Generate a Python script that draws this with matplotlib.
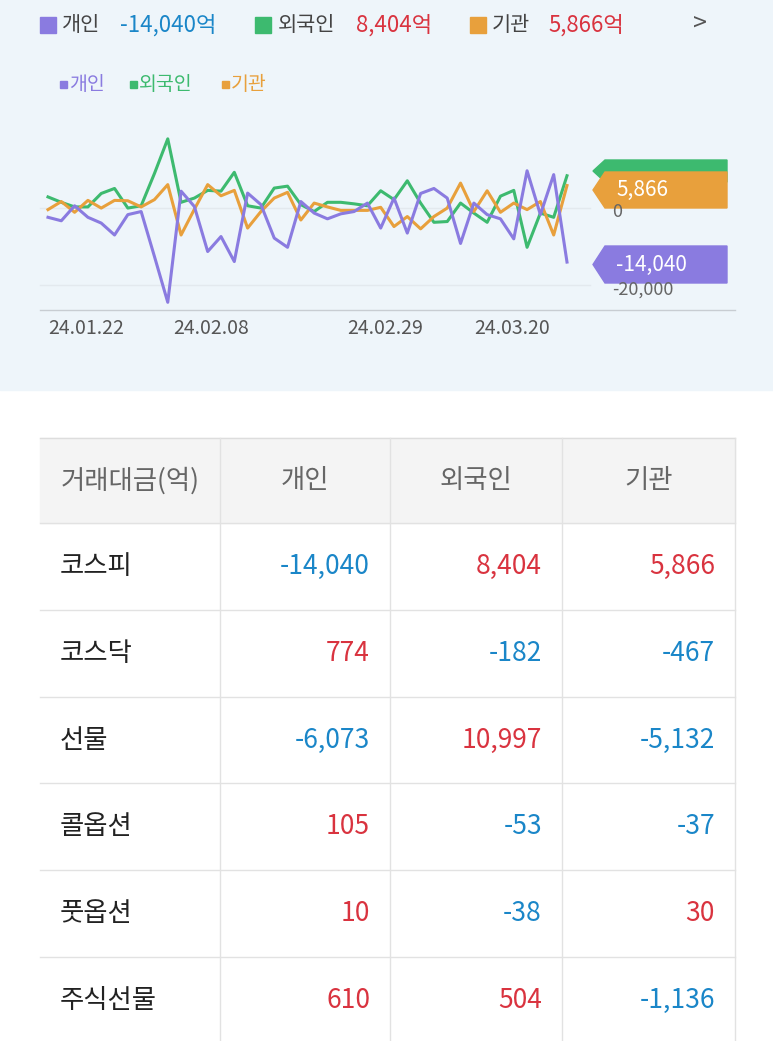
import matplotlib.pyplot as plt
from matplotlib.patches import Rectangle, Polygon
import numpy as np

plt.rcParams['font.family'] = ['Noto Sans CJK KR', 'Noto Sans CJK JP', 'Noto Sans CJK SC', 'DejaVu Sans']

# daily net buying (억)
individual = [-2400, -3300, 600, -2400, -3900, -7000, -1700, -900, -12600, -24500,
              4400, 400, -11300, -7400, -13900, 3900, 900, -7800, -10200, 1700,
              -1300, -2800, -1500, -900, 1300, -5200, 2600, -6500, 3800, 5100,
              2600, -9200, 1300, -1700, -2800, -8000, 9700, -1700, 8700, -14040]
foreign = [2900, 1500, 300, 300, 3800, 5100, 0, 600, 9000, 18000,
           1500, 2600, 4600, 4400, 9300, 600, 0, 5200, 5700, 900,
           -900, 1500, 1500, 1100, 600, 4500, 2200, 7100, 1300, -3700,
           -3500, 1300, -1300, -3700, 3100, 4600, -10200, -1300, -2400, 8404]
institution = [-400, 1700, -1100, 2000, 0, 2000, 1900, 300, 2200, 6100,
               -7000, -300, 6100, 3200, 4600, -5200, -900, 2600, 4100, -3100,
               1300, 300, -600, -600, -600, 200, -4800, -2200, -5400, -2200,
               0, 6500, -900, 4500, -1100, 1300, -400, 1700, -7000, 5866]
date_ticks = ['24.01.22', '24.02.08', '24.02.29', '24.03.20']
date_pos = [0, 9.4, 22.5, 32]

table_header = ['거래대금(억)', '개인', '외국인', '기관']
table_rows = ['코스피', '코스닥', '선물', '콜옵션', '풋옵션', '주식선물']
table_vals = [[-14040, 8404, 5866], [774, -182, -467], [-6073, 10997, -5132],
              [105, -53, -37], [10, -38, 30], [610, 504, -1136]]

PURPLE, GREEN, ORANGE = '#8a7be0', '#3dba6f', '#e8a03c'
BLUE, RED = '#1a86c8', '#d9333f'

fig = plt.figure(figsize=(7.73, 10.41), dpi=100)
bg = fig.add_axes([0, 0, 1, 1])
bg.set_xlim(0, 773)
bg.set_ylim(1041, 0)
bg.axis('off')
bg.add_patch(Rectangle((0, 0), 773, 390, color='#eef5fa', zorder=0))

# top legend
def square(x, y, c):
    bg.add_patch(Rectangle((x, y - 8), 16, 16, color=c))
bits = [(40, PURPLE, '개인', 62, '-14,040억', 120, BLUE),
        (255, GREEN, '외국인', 278, '8,404억', 356, RED),
        (470, ORANGE, '기관', 492, '5,866억', 548, RED)]
for sx, c, name, nx, val, vx, vc in bits:
    square(sx, 25, c)
    bg.text(nx, 25, name, fontsize=15, color='#444444', va='center')
    bg.text(vx, 25, val, fontsize=16, color=vc, va='center')
bg.text(700, 25, '>', fontsize=18, color='#555555', va='center', ha='center')

# mini legend
for x, c, name in [(60, PURPLE, '개인'), (130, GREEN, '외국인'), (222, ORANGE, '기관')]:
    bg.add_patch(Rectangle((x, 81), 7, 7, color=c))
    bg.text(x + 9, 85, name, fontsize=14, color=c, va='center')

# grid
for y in [208, 285]:
    bg.plot([40, 590], [y, y], color='#e3e9ee', lw=1)
bg.plot([40, 735], [310, 310], color='#c8cdd2', lw=1)
bg.text(612, 212, '0', fontsize=13, color='#666666', va='center')
bg.text(612, 290, '-20,000', fontsize=13, color='#666666', va='center')

# chart
ax = fig.add_axes([48 / 773, 1 - 310 / 1041, (567 - 48) / 773, 190 / 1041])
ax.set_xlim(0, len(individual) - 1)
ax.set_ylim(-26500, 22900)
ax.axis('off')
xs = np.arange(len(individual))
ax.plot(xs, foreign, color=GREEN, lw=2.2, clip_on=False)
ax.plot(xs, institution, color=ORANGE, lw=2.2, clip_on=False)
ax.plot(xs, individual, color=PURPLE, lw=2.2, clip_on=False)
for d, p in zip(date_ticks, date_pos):
    bg.text(48 + p * (567 - 48) / 39, 328, d, fontsize=14, color='#555555', va='center')

# value tags
def tag(y0, y1, c, label):
    ym = (y0 + y1) / 2
    bg.add_patch(Polygon([(593, ym), (605, y0), (727, y0), (727, y1), (605, y1)], color=c))
    if label:
        bg.text(616, ym, label, fontsize=15, color='white', va='center')
tag(160, 182, GREEN, '')
tag(172, 208, ORANGE, '5,866')
tag(246, 283, PURPLE, '-14,040')

# table
cols = [40, 220, 390, 562, 735]
bg.add_patch(Rectangle((40, 438), 695, 85, color='#f4f4f4'))
bg.plot([40, 735], [438, 438], color='#dddddd', lw=1)
row_y = [438, 523, 610, 697, 783, 870, 957, 1044]
for y in row_y[1:-1]:
    bg.plot([40, 735], [y, y], color='#e2e2e2', lw=1)
for x in cols[1:]:
    bg.plot([x, x], [438, 1041], color='#e2e2e2', lw=1)
for i, h in enumerate(table_header):
    bg.text((cols[i] + cols[i + 1]) / 2, 481, h, fontsize=19, color='#666666',
            ha='center', va='center')
for r, (name, vals) in enumerate(zip(table_rows, table_vals)):
    yc = (row_y[r + 1] + row_y[r + 2]) / 2
    bg.text(60, yc, name, fontsize=19, color='#222222', va='center')
    for j, v in enumerate(vals):
        bg.text(cols[j + 2] - 20, yc, f'{v:,}', fontsize=19,
                color=BLUE if v < 0 else RED, ha='right', va='center')

fig.savefig('out.png', dpi=100)
